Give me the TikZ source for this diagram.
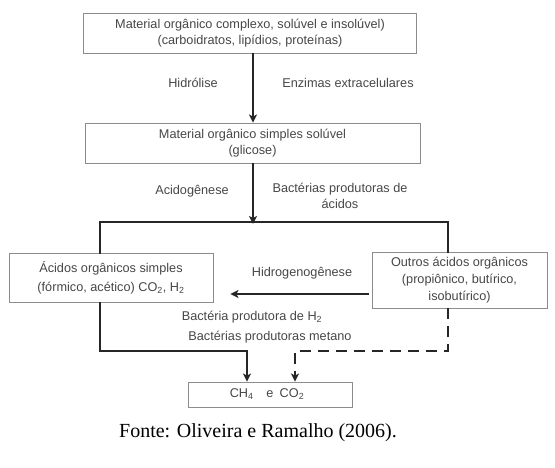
\documentclass[tikz,border=0pt]{standalone}
\usepackage{fontspec}
\setmainfont{Liberation Serif}
\newfontfamily\boxfont{Liberation Sans}
\usetikzlibrary{arrows.meta}
\begin{document}
\begin{tikzpicture}[x=1pt, y=-1pt,
    box/.style={draw=black!45, line width=0.9pt, fill=white, align=center,
      font=\boxfont\fontsize{12.7}{16}\selectfont, text=black!72, inner sep=0pt},
    lbl/.style={align=center, font=\boxfont\fontsize{12.7}{16}\selectfont, text=black!72},
    flow/.style={line width=2.6pt, black!85},
    tip/.style={-{Stealth[length=8pt, width=8pt, inset=2pt]}}]
  \useasboundingbox (0,0) rectangle (555,468);
  % Boxes
  \node[box, minimum width=333pt, minimum height=40pt] (complexo) at (250,33)
    {Material orgânico complexo, solúvel e insolúvel)\\(carboidratos, lipídios, proteínas)};
  \node[box, minimum width=335pt, minimum height=40pt] (simples) at (252.5,143)
    {Material orgânico simples solúvel\\(glicose)};
  \node[box, minimum width=204pt, minimum height=49pt, font=\boxfont\fontsize{12.7}{19}\selectfont] (acidos) at (111,277.5)
    {Ácidos orgânicos simples\\(fórmico, acético) CO\textsubscript{2}, H\textsubscript{2}};
  \node[box, minimum width=175pt, minimum height=56pt, font=\boxfont\fontsize{12.7}{17}\selectfont] (outros) at (459.5,280)
    {Outros ácidos orgânicos\\(propiônico, butírico,\\isobutírico)};
  \node[box, minimum width=164pt, minimum height=25pt] (gas) at (270,394.5)
    {CH\textsubscript{4}\quad e\enspace CO\textsubscript{2}\hspace{6pt}};
  % Junction points
  \coordinate (jl) at (100,222);
  \coordinate (jm) at (253,222);
  \coordinate (jr) at (448,222);
  \coordinate (ml) at (100,351);
  \coordinate (mr) at (448,351);
  \coordinate (el) at (247,0);
  \coordinate (er) at (295,0);
  \coordinate (hy) at (0,294);
  % Hydrolysis
  \draw[flow, tip] (complexo.south -| jm) -- (simples.north -| jm);
  \node[lbl] (hidro) at (193,83) {Hidrólise};
  \node[lbl] (enzimas) at (348,83) {Enzimas extracelulares};
  % Acidogenesis
  \draw[flow, tip] (simples.south -| jm) -- ([yshift=-2pt]jm);
  \node[lbl] (acido) at (192,191) {Acidogênese};
  \node[lbl] (bactacid) at (340,196) {Bactérias produtoras de\\ácidos};
  % Split into the two acid groups
  \draw[flow, line cap=rect] (acidos.north -| jl) -- (jl) -- (jr) -- (outros.north -| jr);
  % Hydrogenogenesis
  \draw[flow, tip, shorten <=3pt, shorten >=17pt] (outros.west |- hy) -- (acidos.east |- hy);
  \node[lbl] (hidrogeno) at (302,273) {Hidrogenogênese};
  \node[lbl] (bacth) at (252,317) {Bactéria produtora de H\textsubscript{2}};
  \node[lbl] (bactmet) at (270,337) {Bactérias produtoras metano};
  % Methanogenesis
  \draw[flow, tip] (acidos.south -| ml) -- (ml) -| (gas.north -| el);
  \draw[flow, tip, dash pattern=on 11pt off 7pt] (outros.south -| mr) -- (mr) -| (gas.north -| er);
  % Source
  \node[font=\fontsize{20}{24}\selectfont] (fonte) at (258,433) {Fonte: Oliveira e Ramalho (2006).};
\end{tikzpicture}
\end{document}
